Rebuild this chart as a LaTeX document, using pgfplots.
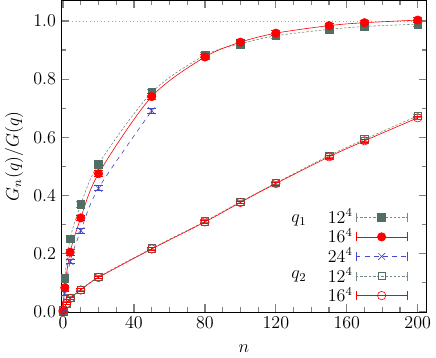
\documentclass[border=0pt]{standalone}
\usepackage{pgfplots}
\pgfplotsset{compat=1.18}
\usepackage{pgfplotstable}

\definecolor{slate}{RGB}{80,110,100}
\definecolor{myblue}{RGB}{70,70,200}

% n, value, error
\pgfplotstableread{
n v e
0 0.000 0.002
1 0.115 0.008
4 0.251 0.010
10 0.369 0.010
20 0.508 0.010
50 0.754 0.010
80 0.882 0.008
100 0.921 0.008
120 0.949 0.008
150 0.971 0.008
170 0.981 0.008
200 0.989 0.008
}\qonetwelve
\pgfplotstableread{
n v e
0 0.000 0.002
1 0.083 0.008
4 0.205 0.010
10 0.323 0.010
20 0.475 0.010
50 0.740 0.010
80 0.876 0.008
100 0.927 0.008
120 0.958 0.008
150 0.984 0.008
170 0.994 0.008
200 1.003 0.008
}\qonesixteen
\pgfplotstableread{
n v e
0 0.000 0.002
1 0.063 0.008
4 0.173 0.008
10 0.279 0.008
20 0.425 0.008
50 0.691 0.008
}\qonetwentyfour
\pgfplotstableread{
n v e
0 0.005 0.003
2 0.030 0.004
4 0.048 0.004
10 0.076 0.004
20 0.120 0.004
50 0.218 0.005
80 0.311 0.005
100 0.378 0.005
120 0.443 0.005
150 0.537 0.006
170 0.593 0.006
200 0.674 0.006
}\qtwotwelve
\pgfplotstableread{
n v e
0 0.005 0.003
2 0.029 0.004
4 0.046 0.004
10 0.075 0.004
20 0.118 0.004
50 0.216 0.005
80 0.309 0.005
100 0.376 0.005
120 0.441 0.005
150 0.533 0.006
170 0.588 0.006
200 0.667 0.006
}\qtwosixteen

\begin{document}
\begin{tikzpicture}[font=\large]
\begin{axis}[
    scale only axis,
    width=243pt, height=207pt,
    xmin=-1, xmax=205, ymin=0, ymax=1.07,
    xtick={0,40,...,200}, minor x tick num=3,
    ytick={0,0.2,...,1.0}, minor y tick num=1,
    yticklabel style={/pgf/number format/.cd,fixed,fixed zerofill,precision=1},
    tick align=inside,
    major tick length=5pt, minor tick length=3pt,
    every tick/.style={gray,thick},
    xlabel={$n$}, ylabel={$G_n(q)/G(q)$},
    xlabel style={yshift=-4pt},
    legend style={at={(axis cs:197,0.375)},anchor=north east,draw=none,fill=none,
        legend cell align=right, row sep=-2pt, font=\large},
    legend plot pos=right,
    legend image code/.code={
        \draw[mark repeat=2,mark phase=2,#1] plot coordinates {(0cm,0cm) (0.6cm,0cm) (1.2cm,0cm)};
        \draw[#1,solid,mark=none] (0cm,-3pt) -- (0cm,3pt) (1.2cm,-3pt) -- (1.2cm,3pt);
    },
    error bars/error bar style={solid,semithick},
    error bars/error mark options={rotate=90,mark size=3pt,solid,semithick},
]
\addplot[gray!70,dotted,forget plot] coordinates {(5,1) (200,1)};

\addplot[slate!80,dash pattern=on 1.6pt off 1.2pt,thin,smooth,tension=0.5,
    mark=square*,mark size=2.6pt,mark options={solid,fill=slate,draw=slate},
    error bars/.cd,y dir=both,y explicit]
    table[x=n,y=v,y error=e] {\qonetwelve};
\addlegendentry{$12^4$}
\addplot[red,thin,smooth,tension=0.5,
    mark=*,mark size=2.8pt,mark options={solid,fill=red},
    error bars/.cd,y dir=both,y explicit]
    table[x=n,y=v,y error=e] {\qonesixteen};
\addlegendentry{$16^4$}
\addplot[myblue,dashed,thin,smooth,tension=0.5,
    mark=x,mark size=3.2pt,mark options={solid},
    error bars/.cd,y dir=both,y explicit]
    table[x=n,y=v,y error=e] {\qonetwentyfour};
\addlegendentry{$24^4$}
\addplot[slate!80,dash pattern=on 1.6pt off 1.2pt,thin,smooth,tension=0.5,
    mark=square,mark size=2.5pt,mark options={solid,draw=slate},
    error bars/.cd,y dir=both,y explicit]
    table[x=n,y=v,y error=e] {\qtwotwelve};
\addlegendentry{$12^4$}
\addplot[red,thin,smooth,tension=0.5,
    mark=o,mark size=2.8pt,mark options={solid},
    error bars/.cd,y dir=both,y explicit]
    table[x=n,y=v,y error=e] {\qtwosixteen};
\addlegendentry{$16^4$}

\node at (axis cs:133,0.315) {$q_1$};
\node at (axis cs:133,0.121) {$q_2$};
\end{axis}
\end{tikzpicture}
\end{document}
